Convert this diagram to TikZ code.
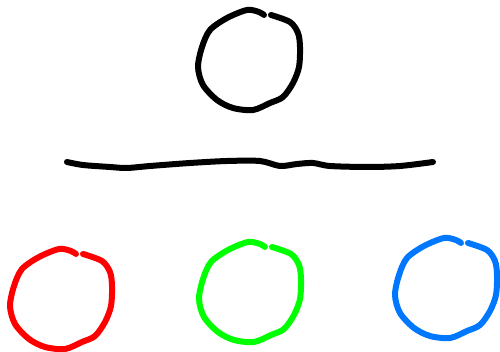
\documentclass[tikz,border=0pt]{standalone}
\usetikzlibrary{calc}

\definecolor{inkred}{RGB}{255,0,0}
\definecolor{inkgreen}{RGB}{0,255,0}
\definecolor{inkblue}{RGB}{0,119,255}

\tikzset{
	stroke/.style={line width=6pt, line cap=round, line join=round},
	pics/ring/.style={code={
		\draw[stroke, #1] plot[smooth, tension=0.5] coordinates {
			(22,-45) (41,-38) (49,-27) (51,-13) (50,7) (44,23) (34,37) (21,43)
			(4,50) (-16,48) (-32,40) (-46,25) (-51,7) (-47,-13) (-39,-30)
			(-22,-42) (-2,-50) (10,-48) (15,-45)};
	}}
}

\begin{document}
\begin{tikzpicture}[x=1pt, y=-1pt]
	\useasboundingbox (0,0) rectangle (500,352);
	% top circle
	\pic at (249,60) {ring=black};
	% divider
	\draw[stroke] plot[smooth, tension=0.5] coordinates {
		(67,162) (83,165) (110,167) (127,168) (150,166) (190,163) (227,161)
		(260,161) (280,166) (297,164) (313,163) (330,166) (367,167) (400,166) (433,162)};
	% bottom row
	\foreach \cx/\cy/\col in {61/299/inkred, 250/292/inkgreen, 446/288/inkblue}
		\pic at (\cx,\cy) {ring=\col};
\end{tikzpicture}
\end{document}
